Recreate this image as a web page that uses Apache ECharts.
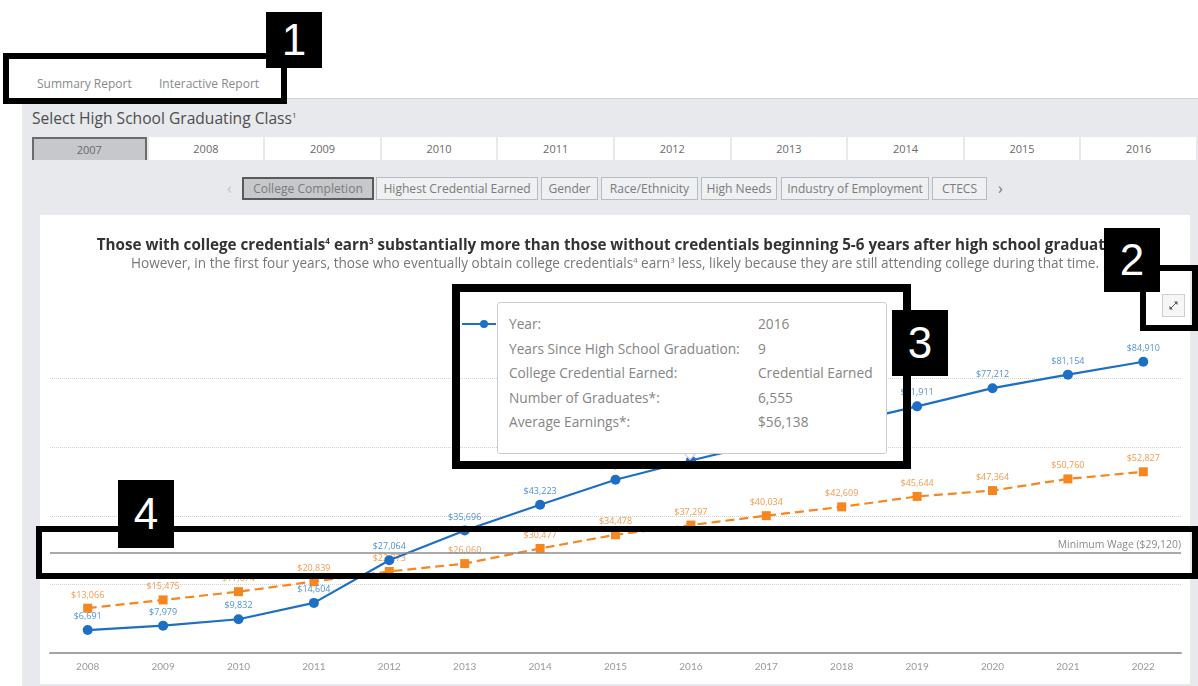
<!DOCTYPE html>
<html>
<head>
<meta charset="utf-8">
<script src="https://cdn.jsdelivr.net/npm/echarts@6/dist/echarts.min.js"></script>
<style>
html,body{margin:0;padding:0;width:1198px;height:686px;overflow:hidden;background:#fff;font-family:"Open Sans",Lato,sans-serif;}
.abs{position:absolute;box-sizing:border-box;}
#panel{left:22px;top:98px;width:1176px;height:588px;background:#e7e9ec;border-top:1px solid #cfd3d7;}
.rtab{top:75px;height:18px;font-size:12px;color:#8a8a8a;line-height:18px;white-space:nowrap;}
#underline{left:23px;top:99px;width:120px;height:2px;background:#444;}
#selectLabel{left:32px;top:107px;font-size:15.6px;color:#4d4d4d;white-space:nowrap;}
sup{font-size:8px;}
.ybtn{top:137px;height:23px;background:#fff;font-size:11px;color:#6a6a6a;text-align:center;line-height:23px;}
.ybtn.sel{background:#c6c8cb;border:2px solid #6b6b6b;border-bottom:none;line-height:21px;}
.tbtn{top:177px;height:23px;background:#eef0f2;border:1px solid #b8bcc0;font-size:12.1px;color:#7b7b7b;text-align:center;line-height:21px;white-space:nowrap;overflow:hidden;}
.tbtn.sel{background:#c6c8cb;border:2px solid #5a5a5a;line-height:19px;}
.chev{top:178px;font-size:16px;line-height:20px;}
#card{left:40px;top:215px;width:1150px;height:469px;background:#fff;}
#chart{left:40px;top:215px;width:1150px;height:469px;}
#expand{left:1162px;top:294px;width:23px;height:23px;border:1px solid #cfcfcf;background:#f6f6f6;}
#tip{left:497px;top:302px;width:390px;height:152px;background:#fff;border:1px solid #c9cdd2;border-radius:3px;font-size:13.7px;color:#858585;}
#tipArrow{left:685px;top:448px;width:10px;height:10px;background:#fff;border-right:1px solid #c9cdd2;border-bottom:1px solid #c9cdd2;transform:rotate(45deg);}
.trow{position:absolute;left:11px;white-space:nowrap;}
.tval{position:absolute;left:260px;white-space:nowrap;}
#legLine{left:462px;top:323px;width:34px;height:2px;background:#1c6fc4;}
#legDot{left:480px;top:320px;width:8px;height:8px;border-radius:50%;background:#1c6fc4;}
.box{border:6px solid #000;}
.num{background:#000;color:#fff;font-family:"Liberation Sans",Arial,sans-serif;font-size:44px;text-align:center;}
</style>
</head>
<body>
<div id="root"></div>
<script>
// ---------------- data ----------------
const reportTabs = ['Summary Report', 'Interactive Report'];
const selectTitle = 'Select High School Graduating Class';
const classYears = ['2007','2008','2009','2010','2011','2012','2013','2014','2015','2016'];
const topicTabs = ['College Completion','Highest Credential Earned','Gender','Race/Ethnicity','High Needs','Industry of Employment','CTECS'];
const chartTitle = 'Those with college credentials{sup|4} earn{sup|3} substantially more than those without credentials beginning 5-6 years after high school graduation.';
const chartSubtitle = 'However, in the first four years, those who eventually obtain college credentials{sup|4} earn{sup|3} less, likely because they are still attending college during that time.';
const years = ['2008','2009','2010','2011','2012','2013','2014','2015','2016','2017','2018','2019','2020','2021','2022'];
const credentialEarned = [6691, 7979, 9832, 14604, 27064, 35696, 43223, 50514, 56138, 61400, 66800, 71911, 77212, 81154, 84910];
const noCredential = [13066, 15475, 17874, 20839, 23773, 26060, 30477, 34478, 37297, 40034, 42609, 45644, 47364, 50760, 52827];
const minimumWage = 29120;
const minimumWageLabel = 'Minimum Wage ($29,120)';
const tooltipLabels = ['Year:', 'Years Since High School Graduation:', 'College Credential Earned:', 'Number of Graduates*:', 'Average Earnings*:'];
const tooltipValues = ['2016', '9', 'Credential Earned', '6,555', '$56,138'];
const calloutNumbers = ['1', '2', '3', '4'];

// ---------------- layout (positions only) ----------------
const rtabX = [37, 159];
const topicX = [242, 376, 541, 601, 701, 781, 932];
const topicW = [132, 162, 57, 97, 76, 148, 55];
const calloutBoxes = [[3, 53, 284, 51], [1140, 265, 58, 66], [452, 284, 459, 185], [36, 526, 1162, 53]];
const calloutSquares = [[266, 12, 56, 56], [1104, 228, 56, 64], [892, 310, 56, 66], [118, 480, 56, 68]];

const root = document.getElementById('root');
function add(id, cls, x, y, w, h, html) {
  const d = document.createElement('div');
  if (id) d.id = id;
  d.className = 'abs ' + (cls || '');
  if (x !== null) d.style.left = x + 'px';
  if (y !== null) d.style.top = y + 'px';
  if (w) d.style.width = w + 'px';
  if (h) d.style.height = h + 'px';
  if (html !== undefined) d.innerHTML = html;
  root.appendChild(d);
  return d;
}
add('panel', '', null, null);
reportTabs.forEach((t, i) => add(null, 'rtab', rtabX[i], null, 0, 0, t));
add('underline', '', null, null);
add('selectLabel', '', null, null, 0, 0, selectTitle + '<sup>1</sup>');
const slot = (1198 - 32) / classYears.length;
classYears.forEach((y, i) => add(null, 'ybtn' + (i === 0 ? ' sel' : ''), 32 + i * slot, null, slot - 2, 0, y));
add(null, 'chev', 227, null, 0, 0, '<span style="color:#c4c4c4">&#8249;</span>');
topicTabs.forEach((t, i) => add(null, 'tbtn' + (i === 0 ? ' sel' : ''), topicX[i], null, topicW[i], 0, t));
add(null, 'chev', 998, null, 0, 0, '<span style="color:#777">&#8250;</span>');
add('card', '', null, null);
add('chart', '', null, null);
add('expand', '', null, null, 0, 0, '<svg width="21" height="21" viewBox="0 0 21 21"><path d="M7 14 L14 7" stroke="#555" stroke-width="1"/><path d="M11 6.5 L14.5 6.5 L14.5 10 Z M6.5 11 L6.5 14.5 L10 14.5 Z" fill="#555"/></svg>');
add('legLine', '', null, null);
add('legDot', '', null, null);
add('tipArrow', '', null, null);
const tip = add('tip', '', null, null);
tooltipLabels.forEach((l, i) => {
  const top = 11 + i * 24.6;
  tip.insertAdjacentHTML('beforeend', '<div class="trow" style="top:' + top + 'px">' + l + '</div><div class="tval" style="top:' + top + 'px">' + tooltipValues[i] + '</div>');
});
calloutBoxes.forEach((b, i) => {
  const box = add(null, 'box', b[0], b[1], b[2], b[3]);
  if (i === 2) box.style.borderWidth = '8px';
});
calloutSquares.forEach((s, i) => {
  const q = add(null, 'num', s[0], s[1], s[2], s[3], calloutNumbers[i]);
  q.style.lineHeight = s[3] + 'px';
});

// ---------------- chart ----------------
const money = v => '$' + v.toLocaleString('en-US');
const chart = echarts.init(document.getElementById('chart'), null, { renderer: 'canvas' });
chart.setOption({
  animation: false,
  title: {
    text: chartTitle,
    subtext: chartSubtitle,
    left: 'center',
    top: 18,
    itemGap: 4,
    textStyle: {
      fontFamily: 'Open Sans', fontSize: 15.2, fontWeight: 'bold', color: '#333',
      rich: { sup: { fontFamily: 'Open Sans', fontSize: 8, fontWeight: 'bold', color: '#333', verticalAlign: 'top', lineHeight: 12 } }
    },
    subtextStyle: {
      fontFamily: 'Open Sans', fontSize: 13.6, color: '#777',
      rich: { sup: { fontFamily: 'Open Sans', fontSize: 7.5, color: '#777', verticalAlign: 'top', lineHeight: 10 } }
    }
  },
  grid: { left: 10, right: 9, top: 95, bottom: 31 },
  xAxis: {
    type: 'category',
    data: years,
    boundaryGap: true,
    axisLine: { lineStyle: { color: '#a3a3a3', width: 2 } },
    axisTick: { alignWithLabel: true, length: 6, lineStyle: { color: '#b0b0b0' } },
    axisLabel: { color: '#9a9a9a', fontSize: 10, margin: 9, fontFamily: 'Lato' }
  },
  yAxis: {
    type: 'value', min: 0, max: 100000, interval: 20000,
    axisLabel: { show: false }, axisLine: { show: false }, axisTick: { show: false },
    splitLine: { show: true, showMinLine: false, showMaxLine: false, lineStyle: { type: 'dotted', color: '#d2d2d2' } }
  },
  series: [
    {
      name: 'Credential Earned',
      type: 'line',
      data: credentialEarned,
      symbol: 'circle', symbolSize: 10,
      itemStyle: { color: '#1c6fc4' },
      lineStyle: { color: '#1c6fc4', width: 2.2 },
      label: { show: true, position: 'top', distance: 4, formatter: p => money(p.value), color: '#4f93d8', fontSize: 9, fontFamily: 'Open Sans' },
      markLine: {
        silent: true, symbol: 'none',
        lineStyle: { color: '#8c8c8c', width: 1.5, type: 'solid' },
        label: { position: 'insideEndTop', formatter: minimumWageLabel, color: '#8a8a8a', fontSize: 10.4, fontFamily: 'Open Sans', distance: [0, 3] },
        data: [{ yAxis: minimumWage }]
      },
      z: 3
    },
    {
      name: 'No Credential Earned',
      type: 'line',
      data: noCredential,
      symbol: 'rect', symbolSize: 9,
      itemStyle: { color: '#f7861f' },
      lineStyle: { color: '#f7861f', width: 2.2, type: [9, 5] },
      label: { show: true, position: 'top', distance: 4, formatter: p => money(p.value), color: '#f49a4e', fontSize: 9, fontFamily: 'Open Sans' },
      z: 2
    }
  ]
});
</script>
</body>
</html>
